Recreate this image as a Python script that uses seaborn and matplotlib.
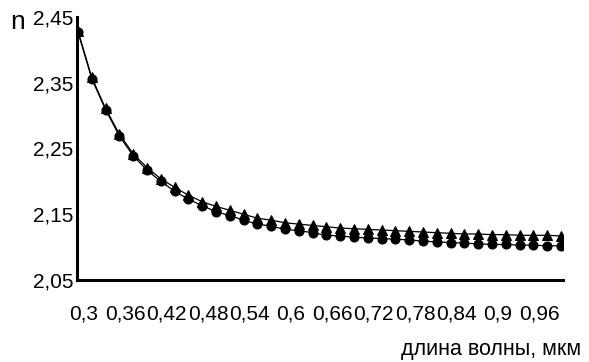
import matplotlib
matplotlib.use("Agg")
import matplotlib.pyplot as plt
import matplotlib.transforms as mtransforms
import seaborn as sns
import pandas as pd
import numpy as np

wavelength = [0.30, 0.32, 0.34, 0.36, 0.38, 0.40, 0.42, 0.44, 0.46, 0.48, 0.50, 0.52,
              0.54, 0.56, 0.58, 0.60, 0.62, 0.64, 0.66, 0.68, 0.70, 0.72, 0.74, 0.76,
              0.78, 0.80, 0.82, 0.84, 0.86, 0.88, 0.90, 0.92, 0.94, 0.96, 0.98, 1.00]
n_triangle = [2.429, 2.358, 2.311, 2.272, 2.242, 2.221, 2.204, 2.191, 2.179, 2.169, 2.162, 2.156,
              2.150, 2.144, 2.141, 2.137, 2.135, 2.133, 2.131, 2.129, 2.128, 2.127, 2.126, 2.125,
              2.124, 2.123, 2.122, 2.121, 2.120, 2.120, 2.119, 2.119, 2.118, 2.118, 2.118, 2.117]
n_circle = [2.427, 2.356, 2.309, 2.269, 2.239, 2.217, 2.200, 2.185, 2.173, 2.163, 2.154, 2.148,
            2.141, 2.135, 2.132, 2.127, 2.125, 2.122, 2.118, 2.117, 2.115, 2.114, 2.113, 2.112,
            2.111, 2.109, 2.108, 2.107, 2.106, 2.105, 2.104, 2.104, 2.103, 2.103, 2.102, 2.102]
y_ticks = [2.05, 2.15, 2.25, 2.35, 2.45]
y_tick_labels = ["2,05", "2,15", "2,25", "2,35", "2,45"]
x_tick_labels = ["0,3", "0,36", "0,42", "0,48", "0,54", "0,6", "0,66", "0,72", "0,78", "0,84", "0,9", "0,96"]

sns.set_theme(style="white")
plt.rcParams['font.family'] = ['Liberation Sans', 'DejaVu Sans']

df = pd.DataFrame({"idx": np.arange(len(wavelength)), "wl": wavelength,
                   "tri": n_triangle, "circ": n_circle})

fig = plt.figure(figsize=(5.89, 3.62), dpi=100)
ax = fig.add_axes([77/589, 1-280/362, (563-77)/589, (280-17)/362])

sns.lineplot(data=df, x="idx", y="circ", ax=ax, color="black", linewidth=0.9,
             marker="o", markersize=6.5, markeredgecolor="black", markerfacecolor="black")
sns.lineplot(data=df, x="idx", y="tri", ax=ax, color="black", linewidth=0.9,
             marker="^", markersize=7.5, markeredgecolor="black", markerfacecolor="black")

ax.set_xlim(-0.07, 35.15)
ax.set_ylim(2.05, 2.45)
ax.set_yticks(y_ticks)
ax.set_yticklabels(y_tick_labels, fontsize=15)
ax.set_xticks(np.arange(0, len(wavelength), 3))
ax.set_xticklabels(x_tick_labels, fontsize=15)
ax.set_xlabel("")
ax.set_ylabel("")

for s in ["top", "right"]:
    ax.spines[s].set_visible(False)
for s in ["left", "bottom"]:
    ax.spines[s].set_linewidth(2.2)
    ax.spines[s].set_color("black")

ax.tick_params(axis="y", direction="out", length=2.5, width=1.5, pad=0, colors="black")
ax.tick_params(axis="x", direction="in", length=4, width=1.5, pad=18, colors="black")
ax.tick_params(axis="both", labelcolor="black")
ax.grid(False)

offset = mtransforms.ScaledTranslation(0.06, 0, fig.dpi_scale_trans)
for lbl in ax.get_xticklabels():
    lbl.set_transform(lbl.get_transform() + offset)

fig.text(10/589, 1-29/362, "n", fontsize=19, color="black", ha="left", va="baseline")
fig.text(581/589, 1-350/362, "длина волны, мкм", fontsize=15.5, color="black", ha="right", va="center")

fig.savefig("out.png", dpi=100)
